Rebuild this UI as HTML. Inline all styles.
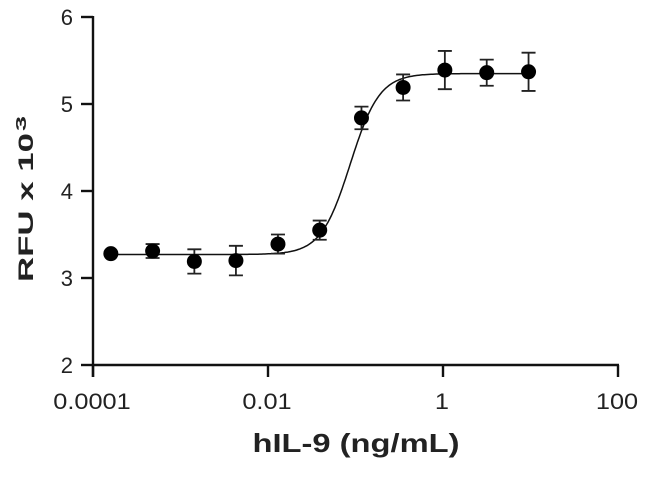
<!DOCTYPE html>
<html><head><meta charset="utf-8"><style>
body{margin:0;background:#fff}
svg text{font-family:"Liberation Sans",Arial,sans-serif;fill:#222}
</style></head><body>
<svg id="chart" width="650" height="476" viewBox="0 0 650 476" xmlns="http://www.w3.org/2000/svg">
<g id="axes"></g><g id="series"></g>
</svg>
<script>
const xTicks=[0.0001,0.01,1,100];
const xTickLabels=["0.0001","0.01","1","100"];
const yTicks=[2,3,4,5,6];
const doses=[0.00016,0.00048,0.00144,0.0043,0.013,0.039,0.117,0.35,1.05,3.16,9.5];
const rfu=[3.28,3.31,3.19,3.20,3.39,3.55,4.84,5.19,5.39,5.36,5.37];
const errs=[0.02,0.08,0.14,0.17,0.11,0.11,0.13,0.15,0.22,0.15,0.22];
const fitBottom=3.27, fitTop=5.35, fitLogEC50=-1.06, fitHill=2.6;

const NS="http://www.w3.org/2000/svg";
const X0=93,XPD=87.5,Y0=365,YPU=87;
function sx(v){return X0+(Math.log10(v)+4)*XPD;}
function sy(v){return Y0-(v-2)*YPU;}
function mk(tag,attrs,parent,txt){const e=document.createElementNS(NS,tag);for(const k in attrs)e.setAttribute(k,attrs[k]);if(txt!==undefined)e.textContent=txt;parent.appendChild(e);return e;}
function stretch(el,f){const w=el.getComputedTextLength();el.setAttribute('textLength',(w*f).toFixed(1));el.setAttribute('lengthAdjust','spacingAndGlyphs');}
const axes=document.getElementById('axes'),ser=document.getElementById('series');
let e;
e=mk('line',{x1:X0,y1:Y0,x2:sx(100)+1,y2:Y0,stroke:'#111','stroke-width':2.4},axes);


e=mk('line',{x1:X0,y1:sy(6)-1,x2:X0,y2:Y0+12,stroke:'#111','stroke-width':2.4},axes);


xTicks.forEach((t,i)=>{
 e=mk('line',{x1:sx(t),y1:Y0,x2:sx(t),y2:Y0+12,stroke:'#111','stroke-width':2.4},axes);
 
 
 e=mk('text',{x:sx(t)-1,y:409,'text-anchor':'middle','font-size':22},axes,xTickLabels[i]);
 
 
 stretch(e,1.15);
});
yTicks.forEach(t=>{
 e=mk('line',{x1:X0-12,y1:sy(t),x2:X0,y2:sy(t),stroke:'#111','stroke-width':2.4},axes);
 
 
 e=mk('text',{x:73,y:sy(t)+8,'text-anchor':'end','font-size':22},axes,String(t));
 
 
});
e=mk('text',{x:356,y:452,'text-anchor':'middle','font-size':26,'font-weight':'bold'},axes,'hIL-9 (ng/mL)');


e.setAttribute('textLength','207');
e.setAttribute('lengthAdjust','spacingAndGlyphs');
e=mk('text',{transform:'translate(33,282) rotate(-90)','text-anchor':'start','font-size':21,'font-weight':'bold',textLength:149,lengthAdjust:'spacingAndGlyphs'},axes,'RFU x 10');


e=mk('text',{transform:'translate(26,131) rotate(-90)','text-anchor':'start','font-size':15,'font-weight':'bold',textLength:15,lengthAdjust:'spacingAndGlyphs'},axes,'3');


// fit curve
let d='';
for(let lx=Math.log10(doses[0]);lx<=Math.log10(doses[doses.length-1])+0.001;lx+=0.02){
 const v=fitBottom+(fitTop-fitBottom)/(1+Math.pow(10,(fitLogEC50-lx)*fitHill));
 d+=(d?'L':'M')+sx(Math.pow(10,lx)).toFixed(1)+','+sy(v).toFixed(1);
}
e=mk('path',{d:d,fill:'none',stroke:'#111','stroke-width':1.5},ser);


doses.forEach((x,i)=>{
 const cx=sx(x),cy=sy(rfu[i]),t=sy(rfu[i]+errs[i]),b=sy(rfu[i]-errs[i]);
 if(errs[i]>0.05){
  e=mk('path',{d:`M${cx},${t}V${b}M${cx-7},${t}H${cx+7}M${cx-7},${b}H${cx+7}`,stroke:'#222','stroke-width':1.8,fill:'none'},ser);
  
  
 }
 e=mk('circle',{cx:cx,cy:cy,r:7.5,fill:'#000'},ser);
 
 
});
</script>
</body></html>
